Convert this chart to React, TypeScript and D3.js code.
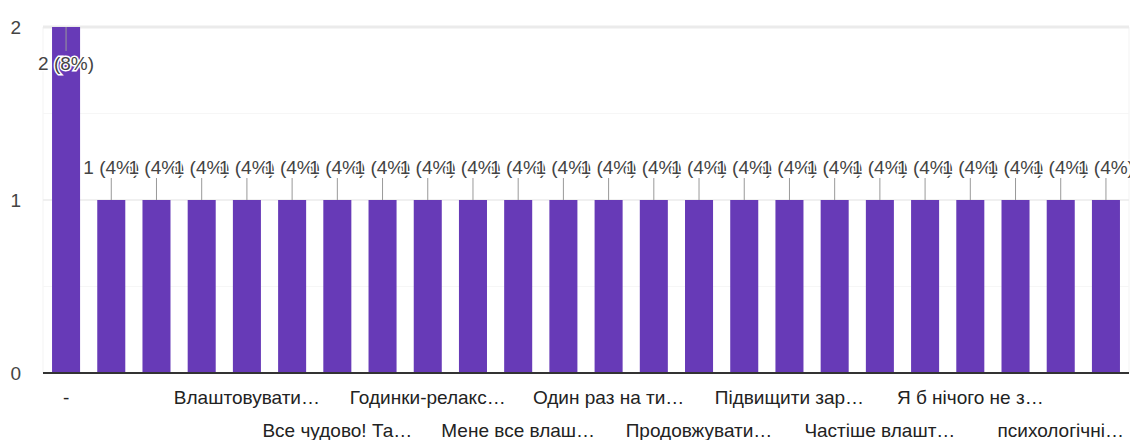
import * as d3 from "d3";

// answers (only the labels Google managed to show are known; the rest are blank)
const categories = [
  "-", "", "", "", "Влаштовувати…", "", "Все чудово! Та…", "",
  "Годинки-релакс…", "", "Мене все влаш…", "", "Один раз на ти…", "",
  "Продовжувати…", "", "Підвищити зар…", "", "Частіше влашт…", "",
  "Я б нічого не з…", "", "психологічні…", "",
];
const counts = [2, 1, 1, 1, 1, 1, 1, 1, 1, 1, 1, 1, 1, 1, 1, 1, 1, 1, 1, 1, 1, 1, 1, 1];
const total = 25;
const yTicks = [0, 1, 2];
const minorTicks = [0.5, 1.5];

const width = 1130;
const height = 440;
const plot = { left: 43, right: 1129, top: 27, bottom: 373 };
const font = "'Liberation Sans', Arial, sans-serif";
const purple = "#673ab7";

export default function App() {
  const x = d3
    .scaleBand<number>()
    .domain(counts.map((_, i) => i))
    .range([plot.left, plot.right])
    .paddingInner(0.38)
    .paddingOuter(0.2);

  const y = d3.scaleLinear().domain([0, 2]).range([plot.bottom, plot.top]);

  return (
    <svg
      width={width}
      height={height}
      style={{ position: "absolute", left: 0, top: 0, background: "#fff" }}
      fontFamily={font}
    >
      {/* frame + grid */}
      <line x1={plot.left} x2={plot.left} y1={plot.top} y2={plot.bottom} stroke="#f3f3f3" />
      <line x1={plot.right} x2={plot.right} y1={plot.top} y2={plot.bottom} stroke="#f3f3f3" />
      {minorTicks.map(t => (
        <line key={t} x1={plot.left} x2={plot.right} y1={y(t)} y2={y(t)} stroke="#f6f6f6" />
      ))}
      {yTicks.filter(t => t > 0).map(t => (
        <line key={t} x1={plot.left} x2={plot.right} y1={y(t)} y2={y(t)} stroke="#ebebeb" strokeWidth={t === 2 ? 3 : 1.5} />
      ))}
      {yTicks.map(t => (
        <text key={t} x={21} y={y(t)} dy="0.36em" textAnchor="end" fontSize={19} fill="#444">
          {t}
        </text>
      ))}

      {/* bars */}
      {counts.map((c, i) => (
        <rect key={i} x={x(i)} y={y(c)} width={x.bandwidth()} height={y(0) - y(c)} fill={purple} />
      ))}
      <line x1={plot.left} x2={plot.right} y1={y(0)} y2={y(0)} stroke="#333" strokeWidth={2} />

      {/* value annotations */}
      {counts.map((c, i) => {
        const cx = x(i)! + x.bandwidth() / 2;
        const top = y(c);
        const above = top - 33 > plot.top + 10;
        const ly = above ? top - 33 : top + 36;
        const lineY1 = above ? ly + 11 : top;
        const lineY2 = above ? top : ly - 12;
        return (
          <g key={i}>
            <line x1={cx} x2={cx} y1={lineY1} y2={lineY2} stroke="#999" />
            <text
              x={cx}
              y={ly}
              dy="0.36em"
              textAnchor="middle"
              fontSize={19}
              fill="#444"
              stroke="#fff"
              strokeWidth={3}
              paintOrder="stroke"
            >
              {`${c} (${Math.round((c / total) * 100)}%)`}
            </text>
          </g>
        );
      })}

      {/* category labels, staggered on two rows */}
      {categories.map((name, i) =>
        name ? (
          <text
            key={i}
            x={x(i)! + x.bandwidth() / 2}
            y={(i / 2) % 2 === 0 ? 397 : 430}
            dy="0.36em"
            textAnchor="middle"
            fontSize={19}
            fill="#222"
          >
            {name}
          </text>
        ) : null
      )}
    </svg>
  );
}
